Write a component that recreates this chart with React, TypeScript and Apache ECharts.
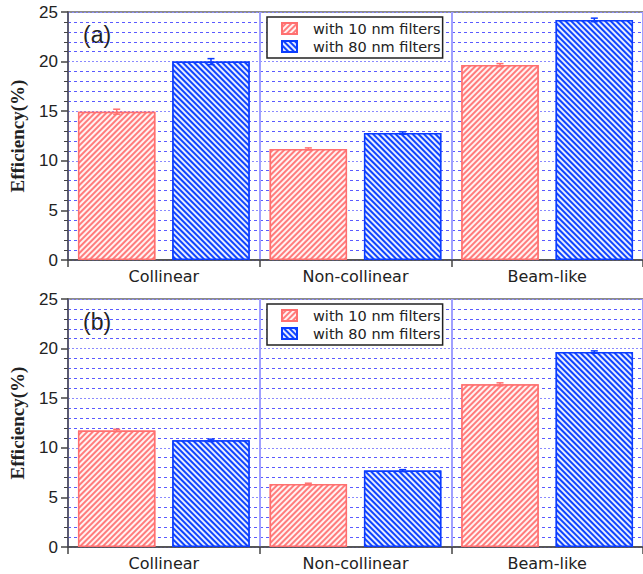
import React, { useEffect, useRef } from "react";
import * as echarts from "echarts";

const categories = ["Collinear", "Non-collinear", "Beam-like"];
const seriesNames = ["with 10 nm filters", "with 80 nm filters"];
const panelLabels = ["(a)", "(b)"];

// Panel (a)
const a10 = [14.95, 11.2, 19.65];
const a10Err = [0.25, 0.1, 0.15];
const a80 = [20.0, 12.8, 24.2];
const a80Err = [0.3, 0.12, 0.18];

// Panel (b)
const b10 = [11.75, 6.35, 16.4];
const b10Err = [0.12, 0.08, 0.15];
const b80 = [10.75, 7.7, 19.65];
const b80Err = [0.12, 0.1, 0.12];

const yTicks = [0, 5, 10, 15, 20, 25];

const RED = "#ff7c7c";
const RED_BORDER = "#ff7070";
const BLUE = "#0f44ff";
const BLUE_BORDER = "#0a3cff";

const BAR_W = 0.404;
const BAR_GAP = 0.218;

export default function App() {
  const ref = useRef<HTMLDivElement>(null);

  useEffect(() => {
    if (!ref.current) return;
    const chart = echarts.init(ref.current, null, { renderer: "svg" });

    const panels = [
      { top: 12, v10: a10, e10: a10Err, v80: a80, e80: a80Err },
      { top: 299, v10: b10, e10: b10Err, v80: b80, e80: b80Err },
    ];

    const grids: any[] = [];
    const xAxes: any[] = [];
    const yAxes: any[] = [];
    const series: any[] = [];
    const legends: any[] = [];
    const graphics: any[] = [];

    const decalRed = {
      symbol: "rect",
      symbolSize: 1,
      color: "rgba(255,255,255,0.9)",
      dashArrayX: [1, 0],
      dashArrayY: [1.1, 1.1],
      rotation: -Math.PI / 4,
    };
    const decalBlue = {
      symbol: "rect",
      symbolSize: 1,
      color: "rgba(255,255,255,0.9)",
      dashArrayX: [1, 0],
      dashArrayY: [1.1, 1.1],
      rotation: Math.PI / 4,
    };

    panels.forEach((p, i) => {
      grids.push({
        left: 67,
        top: p.top,
        width: 579,
        height: 248,
        show: true,
        borderColor: "#666",
        borderWidth: 1.5,
        backgroundColor: "transparent",
      });
      xAxes.push({
        type: "category",
        gridIndex: i,
        data: categories,
        boundaryGap: true,
        axisLine: { lineStyle: { color: "#444", width: 1.5 } },
        axisTick: { show: true, length: 7, lineStyle: { color: "#444", width: 1.5 } },
        axisLabel: { fontSize: 16, color: "#222", margin: 8, fontFamily: "DejaVu Sans, sans-serif" },
        splitLine: { show: true, lineStyle: { color: "#a0a0ff", width: 2 } },
      });
      yAxes.push({
        type: "value",
        gridIndex: i,
        min: yTicks[0],
        max: yTicks[yTicks.length - 1],
        interval: 5,
        name: "Efficiency(%)",
        nameLocation: "middle",
        nameGap: 41,
        nameTextStyle: {
          fontFamily: "Liberation Serif, Times New Roman, serif",
          fontWeight: "bold",
          fontSize: 19,
          color: "#222",
        },
        axisLine: { show: true, lineStyle: { color: "#444", width: 1.5 } },
        axisTick: { show: true, length: 7, lineStyle: { color: "#444", width: 1.5 } },
        minorTick: { show: true, splitNumber: 5, length: 4, lineStyle: { color: "#444", width: 1 } },
        axisLabel: { fontSize: 17, color: "#222", margin: 10, fontFamily: "Liberation Sans, Arial, sans-serif" },
        splitLine: { show: true, lineStyle: { color: "#8a8aff", type: [2, 2], width: 1 } },
        minorSplitLine: { show: true, lineStyle: { color: "#5a5aff", type: [3, 3], width: 1 } },
      });

      series.push({
        name: seriesNames[0],
        type: "bar",
        xAxisIndex: i,
        yAxisIndex: i,
        data: p.v10,
        barWidth: BAR_W * 100 + "%",
        barGap: BAR_GAP * 100 + "%",
        itemStyle: { color: RED, borderColor: RED_BORDER, borderWidth: 1.5, decal: decalRed },
        z: 3,
      });
      series.push({
        name: seriesNames[1],
        type: "bar",
        xAxisIndex: i,
        yAxisIndex: i,
        data: p.v80,
        barWidth: BAR_W * 100 + "%",
        barGap: BAR_GAP * 100 + "%",
        itemStyle: { color: BLUE, borderColor: BLUE_BORDER, borderWidth: 1.5, decal: decalBlue },
        z: 3,
      });

      const errData: any[] = [];
      p.v10.forEach((v, k) => errData.push([k, v, p.e10[k], 0]));
      p.v80.forEach((v, k) => errData.push([k, v, p.e80[k], 1]));
      series.push({
        name: "err" + i,
        type: "custom",
        xAxisIndex: i,
        yAxisIndex: i,
        data: errData,
        z: 5,
        silent: true,
        renderItem: (params: any, api: any) => {
          const xi = api.value(0);
          const v = api.value(1);
          const e = api.value(2);
          const s = api.value(3);
          const band = api.size([1, 0])[0];
          const bw = band * BAR_W;
          const gap = bw * BAR_GAP;
          const off = (s === 0 ? -1 : 1) * (bw + gap) / 2;
          const hi = api.coord([xi, v + e]);
          const lo = api.coord([xi, v - e]);
          const x = hi[0] + off;
          const color = s === 0 ? RED_BORDER : BLUE_BORDER;
          const cap = 3.5;
          const st = { stroke: color, lineWidth: 1.5 };
          return {
            type: "group",
            children: [
              { type: "line", shape: { x1: x, y1: hi[1], x2: x, y2: lo[1] }, style: st },
              { type: "line", shape: { x1: x - cap, y1: hi[1], x2: x + cap, y2: hi[1] }, style: st },
              { type: "line", shape: { x1: x - cap, y1: lo[1], x2: x + cap, y2: lo[1] }, style: st },
            ],
          };
        },
      });

      legends.push({
        data: seriesNames.map((n) => ({ name: n, icon: "rect" })),
        orient: "vertical",
        left: 267,
        top: p.top + 5,
        itemWidth: 15,
        itemHeight: 11,
        itemGap: 3,
        padding: [4, 2, 4, 14],
        borderColor: "#222",
        borderWidth: 1.5,
        backgroundColor: "#fff",
        selectedMode: false,
        textStyle: {
          fontSize: 14.5,
          color: "#222",
          fontFamily: "DejaVu Sans, sans-serif",
          padding: [0, 0, 0, 11],
        },
      });

      graphics.push({
        type: "text",
        left: 83,
        top: p.top + 11,
        style: {
          text: panelLabels[i],
          fontSize: 23,
          fill: "#222",
          fontFamily: "Liberation Sans, Arial, sans-serif",
        },
      });
    });

    chart.setOption({
      animation: false,
      backgroundColor: "#fff",
      grid: grids,
      xAxis: xAxes,
      yAxis: yAxes,
      legend: legends,
      series,
      graphic: graphics,
    });

    return () => chart.dispose();
  }, []);

  return (
    <div
      ref={ref}
      style={{ position: "fixed", left: 0, top: 0, width: 643, height: 574 }}
    />
  );
}
